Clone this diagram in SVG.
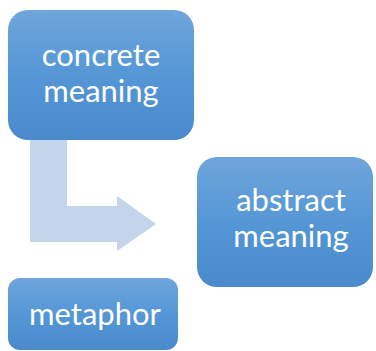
<svg xmlns="http://www.w3.org/2000/svg" width="376" height="351" viewBox="0 0 376 351">
  <defs>
    <linearGradient id="g" x1="0" y1="0" x2="0" y2="1">
      <stop offset="0" stop-color="#6fa5db"/>
      <stop offset="0.5" stop-color="#5597d6"/>
      <stop offset="1" stop-color="#4a8acb"/>
    </linearGradient>
    <style>
      .box { fill: url(#g); }
      .lbl { fill: #ffffff; font-family: Lato, "Open Sans", sans-serif; font-size: 31px; text-anchor: middle; }
      .arrow { fill: #c4d5eb; }
    </style>
  </defs>
  <g id="connectors">
    <polygon class="arrow" points="30,130 67,130 67,206 117,206 117,196 156,224 117,251 117,242 30,242"/>
  </g>
  <g id="concrete">
    <rect class="box" x="8" y="10" width="186" height="130" rx="20" ry="20"/>
    <text class="lbl" x="101" y="66">concrete</text>
    <text class="lbl" x="101" y="102">meaning</text>
  </g>
  <g id="abstract">
    <rect class="box" x="197" y="157" width="176" height="130" rx="20" ry="20"/>
    <text class="lbl" x="291" y="211">abstract</text>
    <text class="lbl" x="291" y="247">meaning</text>
  </g>
  <g id="metaphor">
    <rect class="box" x="8" y="278" width="170" height="72" rx="12" ry="12"/>
    <text class="lbl" x="95" y="325">metaphor</text>
  </g>
</svg>
